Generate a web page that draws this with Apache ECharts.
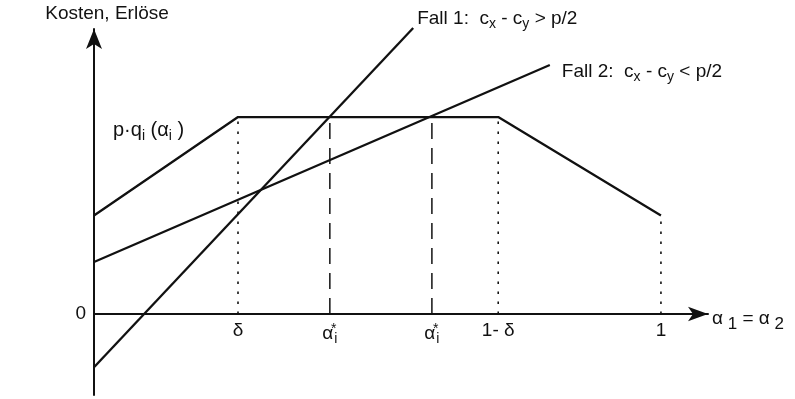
<!DOCTYPE html>
<html>
<head>
<meta charset="utf-8">
<script src="https://cdn.jsdelivr.net/npm/echarts@6/dist/echarts.min.js"></script>
<style>
  html, body { margin: 0; padding: 0; background: #fff; }
  #chart { width: 795px; height: 399px; }
</style>
</head>
<body>
<div id="chart"></div>
<script>
// x positions of the marked points on the alpha axis
const tickValues = [0.254, 0.416, 0.596, 0.713, 1];
const tickNames = ['δ', 'a1', 'a2', '1- δ', '1'];

// revenue p*q_i(alpha_i)
const revenueX = [0, 0.254, 0.713, 1];
const revenueY = [0.5, 1, 1, 0.5];

// cost lines
const fall1X = [0, 0.563];
const fall1Y = [-0.27, 1.452];
const fall2X = [0, 0.804];
const fall2Y = [0.264, 1.264];

// guide lines down to the axis
const dottedX = [0.254, 0.713, 1];
const dottedTop = [1, 1, 0.5];
const dashedX = [0.416, 0.596];
const dashedTop = [1, 1];

const xMax = 1.083;
const yMin = -0.411;
const yMax = 1.447;

const font = 'Liberation Sans, Arial, sans-serif';
const ink = '#111';

const rich = {
  m: { fontSize: 19, fontFamily: font, color: ink },
  sub: { fontSize: 14, fontFamily: font, color: ink, padding: [11, 0, 0, 0] },
  big: { fontSize: 17, fontFamily: font, color: ink, padding: [12, 0, 0, 0] },
  sup: { fontSize: 14, fontFamily: font, color: ink, padding: [0, 0, 9, 0], width: 1 },
};

function pairs(xs, ys) {
  return xs.map((x, i) => [x, ys[i]]);
}

const chart = echarts.init(document.getElementById('chart'));

const guideSeries = [];
dottedX.forEach((x, i) => {
  guideSeries.push({
    type: 'line', symbol: 'none', silent: true,
    data: [[x, 0], [x, dottedTop[i]]],
    lineStyle: { color: ink, width: 1.6, type: [2.5, 7.5] },
  });
});
dashedX.forEach((x, i) => {
  guideSeries.push({
    type: 'line', symbol: 'none', silent: true,
    data: [[x, 0], [x, dashedTop[i]]],
    lineStyle: { color: ink, width: 1.5, type: [16, 9] },
  });
});

const revenueData = pairs(revenueX, revenueY);
revenueData[0] = {
  value: revenueData[0],
  label: {
    show: true, position: 'right', offset: [14, -85],
    formatter: 'p·q{sub|i} (α{sub|i} )',
    fontSize: 20, fontFamily: font, color: ink, rich: rich,
  },
};

const gridTop = 29;
const gridBottom = 4;
const plotH = 399 - gridTop - gridBottom;
// lift the x axis from the grid bottom up to the value 0
const xAxisOffset = -plotH * (0 - yMin) / (yMax - yMin);

const option = {
  backgroundColor: '#fff',
  animation: false,
  grid: { left: 94, right: 87, top: gridTop, bottom: gridBottom, outerBoundsMode: 'none', containLabel: false },
  xAxis: {
    type: 'value', min: 0, max: xMax,
    offset: xAxisOffset,
    splitLine: { show: false },
    axisLine: { onZero: false, lineStyle: { color: ink, width: 2 }, symbol: ['none', 'arrow'], symbolSize: [11, 20] },
    axisTick: { show: false },
    axisLabel: {
      customValues: tickValues, margin: 7,
      fontSize: 19, fontFamily: font, color: ink, rich: rich,
      formatter: (v) => {
        const name = tickNames[tickValues.indexOf(v)];
        if (name === 'a1' || name === 'a2') return '{m|α}{sup|*}{sub|i}';
        return '{m|' + name + '}';
      },
    },
    name: '{m|α}{big| 1}{m| = α}{big| 2}',
    nameLocation: 'end', nameGap: 4,
    nameTextStyle: { rich: rich, fontSize: 19, color: ink, padding: [9, 0, 0, 0] },
  },
  yAxis: {
    type: 'value', min: yMin, max: yMax,
    splitLine: { show: false },
    axisLine: { onZero: false, lineStyle: { color: ink, width: 2 }, symbol: ['none', 'arrow'], symbolSize: [12, 20] },
    axisTick: { show: false },
    axisLabel: {
      customValues: [0], margin: 8,
      fontSize: 19, fontFamily: font, color: ink,
      formatter: () => '0',
    },
    name: 'Kosten, Erlöse',
    nameLocation: 'end', nameGap: 6,
    nameTextStyle: { fontSize: 19, fontFamily: font, color: ink, align: 'center', padding: [0, 0, 0, 26] },
  },
  series: guideSeries.concat([
    {
      name: 'Erlös', type: 'line', symbolSize: 0, showSymbol: true, silent: true,
      data: revenueData,
      lineStyle: { color: ink, width: 2.3 },
      itemStyle: { color: ink },
    },
    {
      name: 'Fall 1', type: 'line', symbol: 'none', clip: false, silent: true,
      data: pairs(fall1X, fall1Y),
      lineStyle: { color: ink, width: 2.3 },
      endLabel: {
        show: true, distance: 4, offset: [0, -9],
        formatter: 'Fall 1:  c{sub|x} - c{sub|y} > p/2',
        fontSize: 19, fontFamily: font, color: ink, rich: rich,
      },
    },
    {
      name: 'Fall 2', type: 'line', symbol: 'none', clip: false, silent: true,
      data: pairs(fall2X, fall2Y),
      lineStyle: { color: ink, width: 2.3 },
      endLabel: {
        show: true, distance: 4, offset: [8, 7],
        formatter: 'Fall 2:  c{sub|x} - c{sub|y} < p/2',
        fontSize: 19, fontFamily: font, color: ink, rich: rich,
      },
    },
  ]),
};

chart.setOption(option);
</script>
</body>
</html>
